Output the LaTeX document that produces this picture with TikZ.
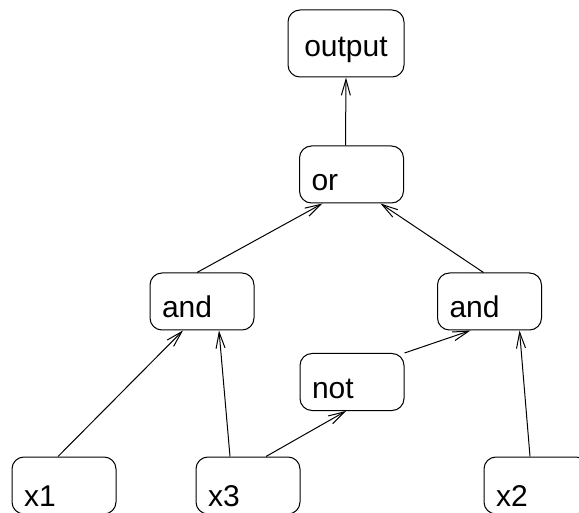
\documentclass[tikz,border=0pt]{standalone}
\usepackage{fontspec}
\setmainfont{Liberation Sans}
\usetikzlibrary{arrows.meta}
\tikzset{
  gatebox/.style={draw, rounded corners=12pt, line width=1pt, align=left,
    text width=80pt, inner xsep=12pt, inner ysep=0pt,
    text height=45pt, text depth=12pt, font=\fontsize{30}{36}\selectfont},
  inbox/.style={gatebox, text height=49pt, text depth=8pt},
  outbox/.style={gatebox, align=center, text width=92pt,
    text height=47pt, text depth=20pt},
  wire/.style={line width=1pt, -{Straight Barb[length=16pt,width=9pt]}},
}
\begin{document}
\begin{tikzpicture}[x=1pt, y=-1pt]
    \useasboundingbox (0,0) rectangle (579,513);
    % Nodes
    \node[outbox] (out) at (346,43.5) {output};
    \node[gatebox] (or) at (351.5,174.5) {or};
    \node[gatebox] (a1) at (202,301.5) {and};
    \node[gatebox] (a2) at (489.5,301.5) {and};
    \node[gatebox] (nt) at (352,382) {not};
    \node[inbox] (x1) at (64,485.5) {x1};
    \node[inbox] (x3) at (248,485.5) {x3};
    \node[inbox] (x2) at (536,485.5) {x2};
    % Edges
    \draw[wire] ([xshift=-6pt]or.north) -- (out.south);
    \draw[wire] ([xshift=-5pt]a1.north) -- ([xshift=-29pt]or.south);
    \draw[wire] ([xshift=-6pt]a2.north) -- ([xshift=29pt]or.south);
    \draw[wire] ([xshift=-6pt]x1.north) -- ([xshift=-19pt]a1.south);
    \draw[wire] ([xshift=-18pt]x3.north) -- ([xshift=17pt]a1.south);
    \draw[wire] ([xshift=18pt]x3.north) -- ([xshift=-6pt]nt.south);
    \draw[wire] (nt.north east) -- ([xshift=-19pt]a2.south);
    \draw[wire] ([xshift=-6pt]x2.north) -- ([xshift=30pt]a2.south);
\end{tikzpicture}
\end{document}
